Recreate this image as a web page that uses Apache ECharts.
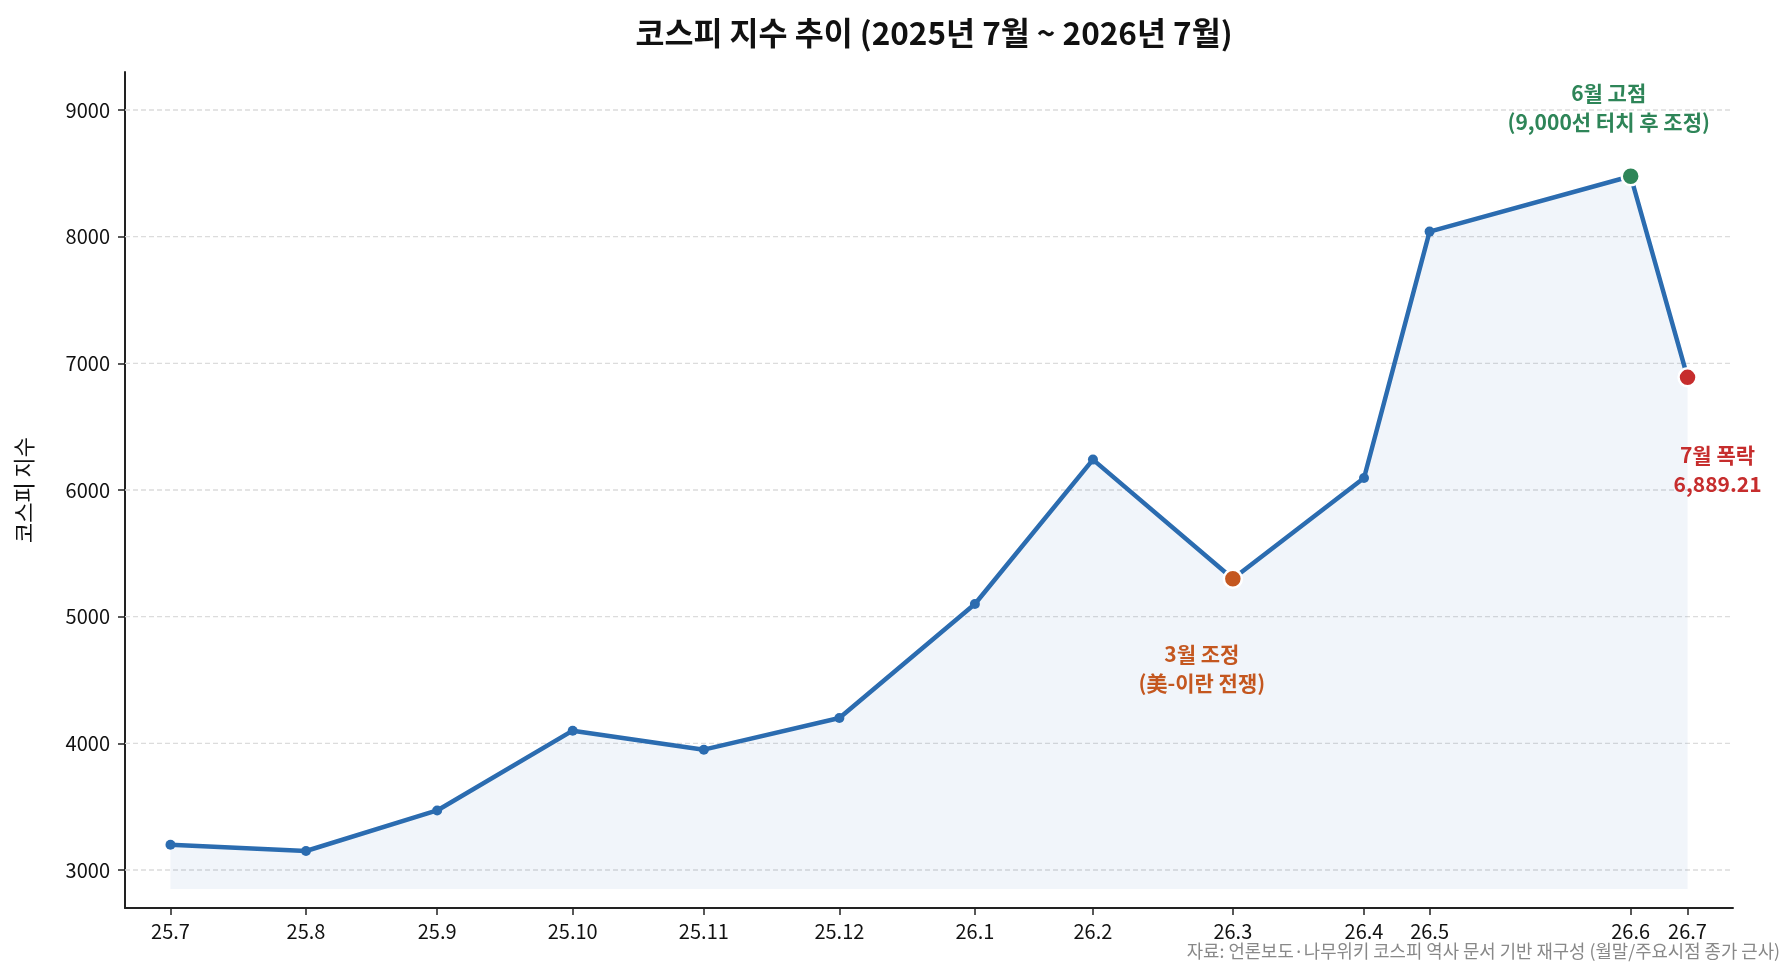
<!DOCTYPE html>
<html>
<head>
<meta charset="utf-8">
<script src="https://cdn.jsdelivr.net/npm/echarts@6/dist/echarts.min.js"></script>
<style>
  html, body { margin: 0; padding: 0; background: #fff; }
  #chart { width: 1789px; height: 976px; }
</style>
</head>
<body>
<div id="chart"></div>
<script>
// 날짜(월말/주요시점) - 그림에서 읽은 위치
const dates = ["2025-07-31", "2025-08-31", "2025-09-30", "2025-10-31", "2025-11-30", "2025-12-31",
  "2026-01-31", "2026-02-27", "2026-03-31", "2026-04-30", "2026-05-15", "2026-06-30", "2026-07-13"];
const tickLabels = ["25.7", "25.8", "25.9", "25.10", "25.11", "25.12",
  "26.1", "26.2", "26.3", "26.4", "26.5", "26.6", "26.7"];
const kospi = [3200, 3150, 3470, 4100, 3950, 4200, 5100, 6240, 5300, 6095, 8040, 8477, 6889.21];
const yTicks = [3000, 4000, 5000, 6000, 7000, 8000, 9000];

// 강조 지점
const hiIndex = [8, 11, 12];
const hiText = ["3월 조정\n(美-이란 전쟁)", "6월 고점\n(9,000선 터치 후 조정)", "7월 폭락\n6,889.21"];
const hiColor = ["#C4571F", "#2E8558", "#C62D2D"];
const hiOffset = [[-31, 90], [-22, -69], [30, 92]];

const FONT = "'Noto Sans CJK KR', 'Noto Sans', sans-serif";
const LINE = "#2B6CB0";
const DAY = 86400000;

const xs = dates.map(d => Date.parse(d));

const chart = echarts.init(document.getElementById("chart"));

const option = {
  animation: false,
  backgroundColor: "#fff",
  textStyle: { fontFamily: FONT },
  title: {
    text: "코스피 지수 추이 (2025년 7월 ~ 2026년 7월)",
    left: 929,
    top: 12,
    textAlign: "center",
    textStyle: { fontFamily: FONT, fontSize: 31.5, fontWeight: "bold", color: "#111" }
  },
  grid: { left: 125, right: 56, top: 72, bottom: 68 },
  xAxis: {
    type: "value",
    min: xs[0] - 10.4 * DAY,
    max: xs[xs.length - 1] + 10.4 * DAY,
    axisLine: { lineStyle: { color: "#222", width: 2 } },
    axisTick: { customValues: xs, length: 7, lineStyle: { color: "#222", width: 1.5 } },
    axisLabel: {
      customValues: xs,
      formatter: v => tickLabels[xs.indexOf(v)],
      fontFamily: FONT, fontSize: 20, color: "#111", margin: 13
    },
    splitLine: { show: false }
  },
  yAxis: {
    type: "value",
    min: 2700,
    max: 9300,
    name: "코스피 지수",
    nameLocation: "middle",
    nameRotate: 90,
    nameGap: 90,
    nameTextStyle: { fontFamily: FONT, fontSize: 22, color: "#111" },
    axisLine: { show: true, lineStyle: { color: "#222", width: 2 } },
    axisTick: { show: true, customValues: yTicks, length: 7, lineStyle: { color: "#222", width: 1.5 } },
    axisLabel: {
      customValues: yTicks,
      formatter: v => String(v),
      fontFamily: FONT, fontSize: 20, color: "#111", margin: 15
    },
    splitLine: { show: false }
  },
  graphic: [
    {
      type: "text",
      right: 9,
      top: 942,
      style: {
        text: "자료: 언론보도·나무위키 코스피 역사 문서 기반 재구성 (월말/주요시점 종가 근사)",
        font: "17.8px " + FONT,
        fill: "#888"
      }
    }
  ],
  series: [
    {
      // 가로 점선 격자
      type: "custom",
      z: 1,
      silent: true,
      data: yTicks.map(v => [xs[0], v]),
      renderItem: (params, api) => {
        const cs = params.coordSys;
        const y = api.coord([api.value(0), api.value(1)])[1];
        return {
          type: "line",
          shape: { x1: cs.x, y1: y, x2: cs.x + cs.width, y2: y },
          style: { stroke: "#dcdcdc", lineWidth: 1.3, lineDash: [5, 3] }
        };
      }
    },
    {
      type: "line",
      z: 2,
      data: xs.map((x, i) => [x, kospi[i]]),
      symbol: "circle",
      symbolSize: 10,
      itemStyle: { color: LINE },
      lineStyle: { color: LINE, width: 4.5 },
      areaStyle: { color: "rgba(43,108,176,0.095)", origin: 2850 }
    },
    {
      type: "scatter",
      z: 3,
      symbol: "circle",
      symbolSize: 18,
      data: hiIndex.map((idx, k) => ({
        value: [xs[idx], kospi[idx]],
        itemStyle: { color: hiColor[k], borderColor: "#fff", borderWidth: 2.5, opacity: 1 },
        label: {
          show: true,
          position: "inside",
          offset: hiOffset[k],
          formatter: hiText[k],
          color: hiColor[k],
          fontFamily: FONT,
          fontSize: 21,
          fontWeight: "bold",
          lineHeight: 29,
          align: "center"
        }
      }))
    }
  ]
};

chart.setOption(option);
</script>
</body>
</html>
